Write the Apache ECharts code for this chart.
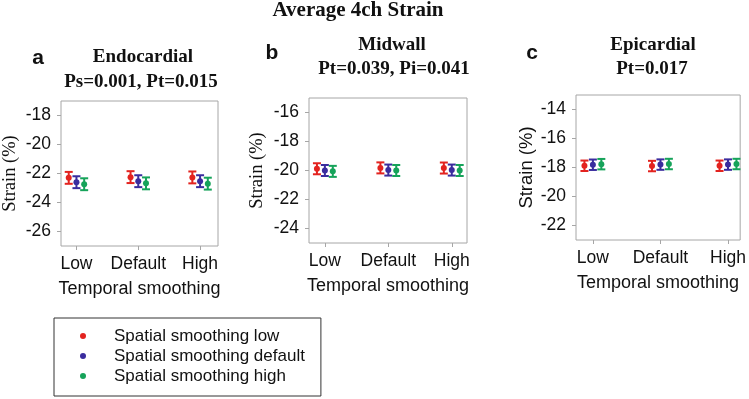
<!DOCTYPE html>
<html>
<head>
<meta charset="utf-8">
<script src="https://cdn.jsdelivr.net/npm/echarts@6/dist/echarts.min.js"></script>
<style>
	html, body { margin: 0; padding: 0; background: #fff; }
	#main { width: 749px; height: 399px; }
</style>
</head>
<body>
<div id="main"></div>
<script>
	// temporal smoothing levels (x axis)
	var categories = ['Low', 'Default', 'High'];
	var seriesNames = ['Spatial smoothing low', 'Spatial smoothing default', 'Spatial smoothing high'];
	var colors = ['#e3231f', '#3a2c9e', '#16a35a'];

	// endocardial strain, one array per spatial smoothing level
	var endoLow = [-22.30, -22.25, -22.27];
	var endoDefault = [-22.60, -22.53, -22.53];
	var endoHigh = [-22.74, -22.68, -22.70];
	var endoErr = [0.41, 0.41, 0.41];

	// midwall
	var midLow = [-19.88, -19.82, -19.83];
	var midDefault = [-20.00, -19.97, -19.97];
	var midHigh = [-20.06, -20.00, -20.00];
	var midErr = [0.38, 0.38, 0.38];

	// epicardial
	var epiLow = [-17.88, -17.90, -17.88];
	var epiDefault = [-17.81, -17.80, -17.80];
	var epiHigh = [-17.77, -17.76, -17.76];
	var epiErr = [0.36, 0.36, 0.36];

	var endoTicks = [-26, -24, -22, -20, -18];
	var midTicks = [-24, -22, -20, -18, -16];
	var epiTicks = [-22, -20, -18, -16, -14];

	var dodge = [-0.125, 0, 0.125];

	var panels = [
		{ data: [endoLow, endoDefault, endoHigh], err: endoErr, ticks: endoTicks, min: -27, max: -17,
		  grid: { left: 60, top: 101, width: 158, height: 145 }, xmax: 3.29, serif: true, nameGap: 41 },
		{ data: [midLow, midDefault, midHigh], err: midErr, ticks: midTicks, min: -25, max: -15,
		  grid: { left: 309, top: 98, width: 158, height: 145 }, xmax: 3.24, serif: true, nameGap: 42 },
		{ data: [epiLow, epiDefault, epiHigh], err: epiErr, ticks: epiTicks, min: -23, max: -13,
		  grid: { left: 576, top: 95, width: 167, height: 145 }, xmax: 3.18, serif: false, nameGap: 39 }
	];

	function renderErr(params, api) {
		var x = api.value(0), m = api.value(1), e = api.value(2);
		var c = api.coord([x, m]);
		var t = api.coord([x, m + e]);
		var b = api.coord([x, m - e]);
		var color = api.visual('color');
		var hw = 4;
		var ls = { stroke: color, lineWidth: 2 };
		return {
			type: 'group',
			children: [
				{ type: 'line', shape: { x1: c[0], y1: t[1], x2: c[0], y2: b[1] }, style: ls },
				{ type: 'line', shape: { x1: c[0] - hw, y1: t[1], x2: c[0] + hw, y2: t[1] }, style: ls },
				{ type: 'line', shape: { x1: c[0] - hw, y1: b[1], x2: c[0] + hw, y2: b[1] }, style: ls },
				{ type: 'circle', shape: { cx: c[0], cy: c[1], r: 3 }, style: { fill: color } }
			]
		};
	}

	var grids = [], xAxes = [], yAxes = [], series = [];
	panels.forEach(function(p, i) {
		grids.push({ left: p.grid.left, top: p.grid.top, width: p.grid.width, height: p.grid.height,
			show: true, borderColor: '#a6a6a6', borderWidth: 1, backgroundColor: '#fff' });
		xAxes.push({
			type: 'value', gridIndex: i, min: 0.75, max: p.xmax,
			axisLine: { show: false }, splitLine: { show: false },
			axisTick: { show: true, length: 4, customValues: [1, 2, 3], lineStyle: { color: '#a6a6a6' } },
			axisLabel: { customValues: [1, 2, 3], margin: 9, fontSize: 17.5, color: '#111',
				fontFamily: 'Liberation Sans, Arial, sans-serif',
				formatter: function(v) { return categories[Math.round(v) - 1]; } },
			name: 'Temporal smoothing', nameLocation: 'middle', nameGap: 34,
			nameTextStyle: { fontSize: 18, color: '#111', fontFamily: 'Liberation Sans, Arial, sans-serif' }
		});
		yAxes.push({
			type: 'value', gridIndex: i, min: p.min, max: p.max,
			axisLine: { show: false }, splitLine: { show: false },
			axisTick: { show: true, length: 4, customValues: p.ticks, lineStyle: { color: '#a6a6a6' } },
			axisLabel: { customValues: p.ticks, margin: 10, fontSize: 17.5, color: '#111',
				fontFamily: 'Liberation Sans, Arial, sans-serif' },
			name: 'Strain (%)', nameLocation: 'middle', nameGap: p.nameGap, nameRotate: 90,
			nameTextStyle: { fontSize: 18.5, color: '#111',
				fontFamily: p.serif ? 'Liberation Serif, Times New Roman, serif' : 'Liberation Sans, Arial, sans-serif' }
		});
		for (var s = 0; s < 3; s++) {
			var pts = [];
			for (var k = 0; k < categories.length; k++) {
				pts.push([k + 1 + dodge[s], p.data[s][k], p.err[k]]);
			}
			series.push({
				type: 'custom', name: seriesNames[s], xAxisIndex: i, yAxisIndex: i,
				itemStyle: { color: colors[s] }, renderItem: renderErr, data: pts, silent: true
			});
		}
	});

	var serifBold = 'bold 19px "Liberation Serif", "Times New Roman", serif';
	var sansBold = 'bold 21px "Liberation Sans", Arial, sans-serif';
	function label(x, y, text, font) {
		return { type: 'text', x: x, y: y, silent: true,
			style: { text: text, font: font, fill: '#111', align: 'center', verticalAlign: 'middle' } };
	}

	var option = {
		animation: false,
		backgroundColor: '#fff',
		color: colors,
		grid: grids,
		xAxis: xAxes,
		yAxis: yAxes,
		series: series,
		legend: {
			orient: 'vertical', left: 54, top: 318,
			data: seriesNames.map(function(n) { return { name: n, icon: 'circle' }; }),
			itemWidth: 6, itemHeight: 6, itemGap: 0,
			padding: [8, 16, 10, 26],
			borderColor: '#333', borderWidth: 1,
			selectedMode: false,
			textStyle: { fontSize: 17, color: '#111', lineHeight: 20, padding: [0, 0, 0, 23],
				fontFamily: 'Liberation Sans, Arial, sans-serif' }
		},
		graphic: [
			label(358, 11, 'Average 4ch Strain', 'bold 21px "Liberation Serif", "Times New Roman", serif'),
			label(38, 58, 'a', sansBold),
			label(143, 57, 'Endocardial', serifBold),
			label(141, 82, 'Ps=0.001, Pt=0.015', serifBold),
			label(272, 53, 'b', sansBold),
			label(392, 45, 'Midwall', serifBold),
			label(394, 69, 'Pt=0.039, Pi=0.041', serifBold),
			label(532, 53, 'c', sansBold),
			label(653, 45, 'Epicardial', serifBold),
			label(652, 69, 'Pt=0.017', serifBold)
		]
	};

	var myChart = echarts.init(document.getElementById('main'));
	myChart.setOption(option);
</script>
</body>
</html>
